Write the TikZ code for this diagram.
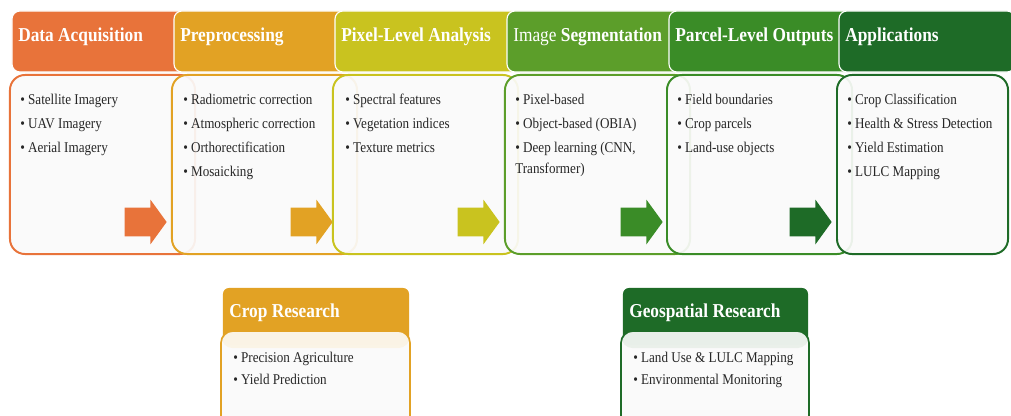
\documentclass[tikz,border=0pt]{standalone}
\usepackage{fontspec}
\setmainfont[FakeStretch=0.88]{Liberation Serif}
\usetikzlibrary{shapes.arrows}

\definecolor{acqOrange}{HTML}{E8733A}
\definecolor{preGold}{HTML}{E2A224}
\definecolor{pixOlive}{HTML}{C9C31F}
\definecolor{segGreen}{HTML}{5C9E2A}
\definecolor{parGreen}{HTML}{3A8C27}
\definecolor{appGreen}{HTML}{1E6B27}
\definecolor{panelWhite}{HTML}{FAFAFA}

\begin{document}
\begin{tikzpicture}[x=0.025cm,y=-0.025cm,
    head/.style={rectangle,rounded corners=0.2cm,draw=white,line width=0.8pt,
        minimum width=4.625cm,minimum height=1.525cm,inner sep=0pt},
    panel/.style={rectangle,rounded corners=0.375cm,line width=1.4pt,
        fill=panelWhite,fill opacity=0.92,
        minimum width=4.625cm,minimum height=4.475cm,inner sep=0pt},
    flow/.style={single arrow,single arrow tip angle=108,single arrow head extend=0.2cm,
        minimum height=1.05cm,inner xsep=0pt,inner ysep=0.35cm,anchor=tip},
    title/.style={text=white,font=\bfseries\fontsize{14}{16}\selectfont,
        anchor=base west,inner sep=0pt},
    items/.style={text=black!85,font=\fontsize{10.6}{17}\selectfont,
        align=left,anchor=north west,inner sep=0pt}]
    \useasboundingbox (0,0) rectangle (1011,415);

    % stage 1
    \node[panel,draw=acqOrange] (acqBody) at (102.5,164.5) {};
    \node[head,fill=acqOrange] (acqHead) at (104.5,41.5) {};
    \node[title] (acqTitle) at (18,41) {Data Acquisition};
    \node[items] (acqList) at (20,94) {• Satellite Imagery\\• UAV Imagery\\• Aerial Imagery};
    \node[flow,fill=acqOrange] (acqArrow) at (167,222) {};

    % stage 2
    \node[panel,draw=preGold] (preBody) at (264.5,164.5) {};
    \node[head,fill=preGold] (preHead) at (266.5,41.5) {};
    \node[title] (preTitle) at (180,41) {Preprocessing};
    \node[items] (preList) at (183,94) {• Radiometric correction\\• Atmospheric correction\\
        • Orthorectification\\• Mosaicking};
    \node[flow,fill=preGold] (preArrow) at (333,222) {};

    % stage 3
    \node[panel,draw=pixOlive] (pixBody) at (425.5,164.5) {};
    \node[head,fill=pixOlive] (pixHead) at (427.5,41.5) {};
    \node[title] (pixTitle) at (341,41) {Pixel-Level Analysis};
    \node[items] (pixList) at (345,94) {• Spectral features\\• Vegetation indices\\• Texture metrics};
    \node[flow,fill=pixOlive] (pixArrow) at (500,222) {};

    % stage 4
    \node[panel,draw=segGreen] (segBody) at (597.5,164.5) {};
    \node[head,fill=segGreen] (segHead) at (599.5,41.5) {};
    \node[title] (segTitle) at (513,41) {\mdseries Image \bfseries Segmentation};
    \node[items] (segList) at (515,94) {• Pixel-based\\• Object-based (OBIA)\\
        • Deep learning (CNN,\\[-2pt]Transformer)};
    \node[flow,fill=parGreen] (segArrow) at (663,222) {};

    % stage 5
    \node[panel,draw=parGreen] (parBody) at (759.5,164.5) {};
    \node[head,fill=parGreen] (parHead) at (761.5,41.5) {};
    \node[title] (parTitle) at (675,41) {Parcel-Level Outputs};
    \node[items] (parList) at (677,94) {• Field boundaries\\• Crop parcels\\• Land-use objects};
    \node[flow,fill=appGreen] (parArrow) at (832,222) {};

    % stage 6
    \node[panel,draw=appGreen,minimum width=4.275cm] (appBody) at (922.5,164.5) {};
    \node[head,fill=appGreen,minimum width=4.4cm] (appHead) at (927,41.5) {};
    \node[title] (appTitle) at (845,41) {Applications};
    \node[items] (appList) at (847,94) {• Crop Classification\\• Health \& Stress Detection\\
        • Yield Estimation\\• LULC Mapping};

    % research boxes
    \node[head,draw=none,fill=preGold,rounded corners=0.15cm,
        minimum width=4.65cm,minimum height=1.425cm] (cropHead) at (316,316.5) {};
    \node[panel,draw=preGold,line width=1.2pt,rounded corners=0.3cm,
        minimum width=4.725cm,minimum height=2.725cm,
        path picture={\fill[preGold!12] (path picture bounding box.north west)
            rectangle ([yshift=-0.43cm]path picture bounding box.north east);}]
        (cropBody) at (315.5,385.5) {};
    \node[title] (cropTitle) at (229,317) {Crop Research};
    \node[items,font=\fontsize{10.6}{15.6}\selectfont] (cropList) at (233,352)
        {• Precision Agriculture\\• Yield Prediction};

    \node[head,draw=none,fill=appGreen,rounded corners=0.15cm,
        minimum width=4.625cm,minimum height=1.425cm] (geoHead) at (715.5,316.5) {};
    \node[panel,draw=appGreen,line width=1.2pt,rounded corners=0.3cm,
        minimum width=4.7cm,minimum height=2.725cm,
        path picture={\fill[appGreen!10] (path picture bounding box.north west)
            rectangle ([yshift=-0.43cm]path picture bounding box.north east);}]
        (geoBody) at (715,385.5) {};
    \node[title] (geoTitle) at (629,317) {Geospatial Research};
    \node[items,font=\fontsize{10.6}{15.6}\selectfont] (geoList) at (633,352)
        {• Land Use \& LULC Mapping\\• Environmental Monitoring};
\end{tikzpicture}
\end{document}
